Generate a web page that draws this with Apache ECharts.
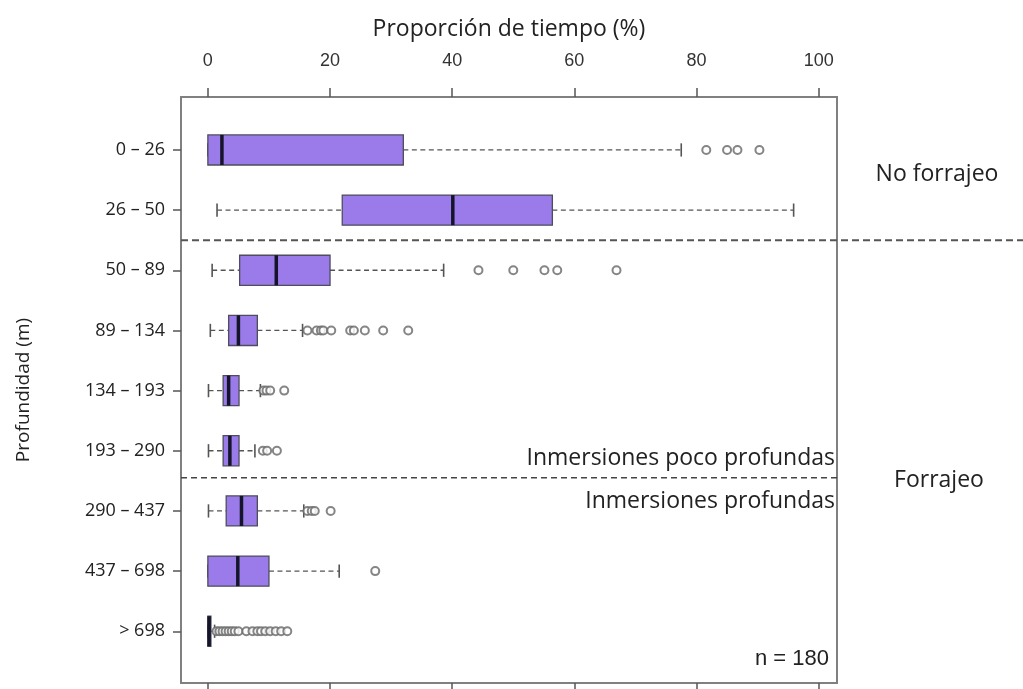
<!DOCTYPE html>
<html>
<head>
<meta charset="utf-8">
<script src="https://cdn.jsdelivr.net/npm/echarts/dist/echarts.min.js"></script>
<style>
  html, body { margin: 0; padding: 0; background: #fff; }
  #chart { width: 1023px; height: 689px; }
</style>
</head>
<body>
<div id="chart"></div>
<script>
// Depth classes (top to bottom)
var categories = ['0 – 26', '26 – 50', '50 – 89', '89 – 134', '134 – 193', '193 – 290', '290 – 437', '437 – 698', '> 698'];

// Five-number summaries per depth class (% of time)
var whiskerLow  = [0,    1.5,  0.7,  0.4, 0.1, 0.1, 0.1, 0,    0];
var quartile1   = [0,    22.0, 5.2,  3.4, 2.5, 2.5, 3.0, 0,    0];
var medians     = [2.3,  40.1, 11.2, 5.0, 3.4, 3.6, 5.5, 4.9,  0.2];
var quartile3   = [32.0, 56.4, 20.0, 8.1, 5.1, 5.1, 8.1, 10.0, 0.5];
var whiskerHigh = [77.5, 95.9, 38.6, 15.5, 8.6, 7.7, 15.7, 21.5, 1.1];

// Outlying values per depth class
var outliers = [
  [81.6, 85.0, 86.7, 90.3],
  [],
  [44.3, 50.0, 55.1, 57.2, 66.9],
  [16.3, 17.8, 18.5, 18.9, 20.2, 23.3, 23.9, 25.7, 28.7, 32.8],
  [9.1, 9.6, 10.2, 12.5],
  [9.0, 9.7, 11.3],
  [16.3, 17.0, 17.5, 20.1],
  [27.4],
  [1.4, 1.9, 2.4, 2.9, 3.4, 3.9, 4.4, 5.0, 6.3, 7.3, 8.1, 8.7, 9.4, 10.2, 11.1, 12.0, 13.0]
];

// Tick values of the percentage axis
var xTicks = [0, 20, 40, 60, 80, 100];

// Group separators (between depth classes)
var separatorForaging = 1.5;
var separatorDeep = 5.45;

var rowIndex = categories.map(function (c, i) { return i; });

var boxData = rowIndex.map(function (i) {
  return [i, whiskerLow[i], quartile1[i], medians[i], quartile3[i], whiskerHigh[i]];
});

var outlierData = [];
outliers.forEach(function (arr, i) {
  arr.forEach(function (v) { outlierData.push([v, i]); });
});

var numFont = '"Liberation Sans Narrow", "Liberation Sans", Arial, sans-serif';
var txtFont = '"Open Sans", "Noto Sans", sans-serif';

var chart = echarts.init(document.getElementById('chart'), null, { renderer: 'canvas' });

function renderBox(params, api) {
  var idx = api.value(0);
  var pLow = api.coord([api.value(1), idx]);
  var pQ1 = api.coord([api.value(2), idx]);
  var pMed = api.coord([api.value(3), idx]);
  var pQ3 = api.coord([api.value(4), idx]);
  var pHigh = api.coord([api.value(5), idx]);
  var band = Math.abs(api.size([0, 1])[1]);
  var hb = band * 0.25;
  var hc = band * 0.11;
  var y = pMed[1];
  var whiskerStyle = { stroke: '#555', lineWidth: 1.3, lineDash: [5, 3.5] };
  var capStyle = { stroke: '#555', lineWidth: 1.6 };
  return {
    type: 'group',
    children: [
      { type: 'line', shape: { x1: pLow[0], y1: y, x2: pQ1[0], y2: y }, style: whiskerStyle },
      { type: 'line', shape: { x1: pQ3[0], y1: y, x2: pHigh[0], y2: y }, style: whiskerStyle },
      { type: 'line', shape: { x1: pLow[0], y1: y - hc, x2: pLow[0], y2: y + hc }, style: capStyle },
      { type: 'line', shape: { x1: pHigh[0], y1: y - hc, x2: pHigh[0], y2: y + hc }, style: capStyle },
      { type: 'rect', shape: { x: pQ1[0], y: y - hb, width: Math.max(pQ3[0] - pQ1[0], 1), height: 2 * hb },
        style: { fill: '#9b7aea', stroke: '#4d4d5c', lineWidth: 1.3 } },
      { type: 'line', shape: { x1: pMed[0], y1: y - hb, x2: pMed[0], y2: y + hb },
        style: { stroke: '#15152a', lineWidth: 3.5 } }
    ]
  };
}

var xMin = -4.4, xMax = 103;
var yMin = -0.88, yMax = 8.86;

chart.setOption({
  animation: false,
  backgroundColor: '#fff',
  grid: {
    left: 181, right: 186, top: 97, bottom: 6,
    show: true, borderColor: '#808080', borderWidth: 2, backgroundColor: 'transparent'
  },
  xAxis: [
    {
      type: 'value', position: 'top', min: xMin, max: xMax,
      name: 'Proporción de tiempo (%)', nameLocation: 'middle', nameGap: 56,
      nameTextStyle: { fontFamily: txtFont, fontSize: 23, color: '#222' },
      axisLine: { show: false, onZero: false },
      splitLine: { show: false },
      axisTick: { show: true, length: 9, customValues: xTicks, lineStyle: { color: '#555', width: 1.5 } },
      axisLabel: { customValues: xTicks, margin: 27, fontFamily: numFont, fontSize: 18, color: '#333' }
    },
    {
      type: 'value', position: 'bottom', min: xMin, max: xMax,
      axisLine: { show: false, onZero: false },
      splitLine: { show: false },
      axisTick: { show: true, length: 9, customValues: xTicks, lineStyle: { color: '#555', width: 1.5 } },
      axisLabel: { show: false }
    }
  ],
  yAxis: {
    type: 'value', inverse: true, min: yMin, max: yMax,
    name: 'Profundidad (m)', nameLocation: 'middle', nameGap: 148, nameRotate: 90,
    nameTextStyle: { fontFamily: txtFont, fontSize: 19, color: '#222' },
    axisLine: { show: false, onZero: false },
    splitLine: { show: false },
    axisTick: { show: true, length: 8, customValues: rowIndex, lineStyle: { color: '#555', width: 1.5 } },
    axisLabel: {
      customValues: rowIndex, margin: 16,
      fontFamily: txtFont, fontSize: 18, color: '#222',
      formatter: function (v) { return categories[Math.round(v)]; }
    }
  },
  series: [
    {
      type: 'custom',
      xAxisIndex: 0,
      renderItem: renderBox,
      encode: { x: [1, 2, 3, 4, 5], y: 0 },
      data: boxData,
      z: 3
    },
    {
      type: 'scatter',
      xAxisIndex: 0,
      symbol: 'emptyCircle',
      symbolSize: 8,
      itemStyle: { color: '#666', borderWidth: 1.3 },
      data: outlierData,
      z: 4
    }
  ]
});

// Separators and annotations placed from the axis scales
var W = chart.getWidth();
var left = chart.convertToPixel({ xAxisIndex: 0 }, xMin);
var right = chart.convertToPixel({ xAxisIndex: 0 }, xMax);
var ySep1 = chart.convertToPixel({ yAxisIndex: 0 }, separatorForaging);
var ySep2 = chart.convertToPixel({ yAxisIndex: 0 }, separatorDeep);
var yBottom = chart.convertToPixel({ yAxisIndex: 0 }, yMax);
var yRow0 = chart.convertToPixel({ yAxisIndex: 0 }, 0);
var yRow1 = chart.convertToPixel({ yAxisIndex: 0 }, 1);

chart.setOption({
  graphic: [
    { type: 'line', shape: { x1: left, y1: ySep1, x2: W, y2: ySep1 },
      style: { stroke: '#555', lineWidth: 2, lineDash: [7, 4] }, z: 10 },
    { type: 'line', shape: { x1: left, y1: ySep2, x2: right, y2: ySep2 },
      style: { stroke: '#444', lineWidth: 1.5, lineDash: [6, 4] }, z: 10 },
    { type: 'text', x: (right + W) / 2 + 7, y: (yRow0 + yRow1) / 2 - 6,
      style: { text: 'No forrajeo', fontFamily: txtFont, fontSize: 23, fill: '#222', align: 'center', verticalAlign: 'middle' } },
    { type: 'text', x: (right + W) / 2 + 9, y: ySep2 + 3,
      style: { text: 'Forrajeo', fontFamily: txtFont, fontSize: 23, fill: '#222', align: 'center', verticalAlign: 'middle' } },
    { type: 'text', x: right - 2, y: ySep2 - 19,
      style: { text: 'Inmersiones poco profundas', fontFamily: txtFont, fontSize: 23, fill: '#222', align: 'right', verticalAlign: 'middle' } },
    { type: 'text', x: right - 2, y: ySep2 + 24,
      style: { text: 'Inmersiones profundas', fontFamily: txtFont, fontSize: 23, fill: '#222', align: 'right', verticalAlign: 'middle' } },
    { type: 'text', x: right - 8, y: yBottom - 24,
      style: { text: 'n = 180', fontFamily: numFont, fontSize: 22, fill: '#222', align: 'right', verticalAlign: 'middle' } }
  ]
});
</script>
</body>
</html>
